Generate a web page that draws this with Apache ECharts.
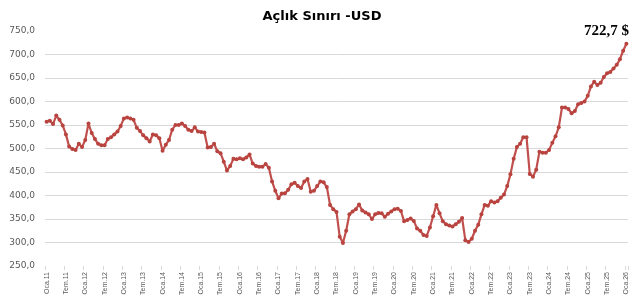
<!DOCTYPE html>
<html>
<head>
<meta charset="utf-8">
<script src="https://cdn.jsdelivr.net/npm/echarts@6/dist/echarts.min.js"></script>
<style>html,body{margin:0;padding:0;background:#fff;}#c{width:644px;height:300px;}</style>
</head>
<body>
<div id="c"></div>
<script>
var monthNames = ['Oca','Şub','Mar','Nis','May','Haz','Tem','Ağu','Eyl','Eki','Kas','Ara'];
var startYear = 2011, endYear = 2026;
var v2011 = [557,559,552,570,561,549,530,504,499,497,510,503];
var v2012 = [518,553,533,520,510,507,507,520,524,530,536,548];
var v2013 = [564,566,564,561,544,537,528,522,515,530,528,522];
var v2014 = [495,508,518,540,550,550,553,548,540,537,545,536];
var v2015 = [535,534,502,503,510,494,490,472,453,463,478,477];
var v2016 = [479,477,481,487,468,463,461,461,467,459,430,410];
var v2017 = [394,404,405,412,424,427,420,416,430,435,408,410];
var v2018 = [420,430,428,418,380,371,365,312,299,325,360,366];
var v2019 = [371,381,368,364,360,350,360,363,362,355,361,366];
var v2020 = [371,372,367,345,348,351,346,330,325,316,314,332];
var v2021 = [356,380,362,345,339,336,334,339,344,352,305,301];
var v2022 = [308,325,338,360,380,378,388,385,388,395,402,420];
var v2023 = [445,478,503,510,524,524,446,440,455,493,491,491];
var v2024 = [497,512,526,545,587,587,584,575,580,594,597,600];
var v2025 = [612,632,642,635,640,652,660,663,670,678,690,708];
var v2026 = [722.7];
var yTicks = {min: 250, max: 750, interval: 50};
var titleText = 'Açlık Sınırı -USD';

var values = [].concat(v2011,v2012,v2013,v2014,v2015,v2016,v2017,v2018,v2019,v2020,v2021,v2022,v2023,v2024,v2025,v2026);
var categories = [];
for (var y = startYear; y <= endYear; y++) {
  for (var m = 0; m < 12; m++) {
    if (categories.length >= values.length) break;
    categories.push(monthNames[m] + '.' + String(y).slice(2));
  }
}
var fmt = function (v) { return v.toFixed(1).replace('.', ','); };
var seriesData = values.map(function (v, i) {
  if (i === values.length - 1) {
    return {value: v, label: {show: true, position: 'top', offset: [-20, 2], formatter: function (p) { return fmt(p.value) + ' $'; },
      fontFamily: 'Liberation Serif', fontWeight: 'bold', fontSize: 15, color: '#000'}};
  }
  return v;
});

var chart = echarts.init(document.getElementById('c'), null, {renderer: 'canvas'});
chart.setOption({
  animation: false,
  title: {text: titleText, left: 'center', top: 5, textStyle: {fontFamily: 'DejaVu Sans', fontWeight: 'bold', fontSize: 13, color: '#000'}},
  grid: {left: 45, right: 16, top: 31, bottom: 34, containLabel: false},
  xAxis: {
    type: 'category', data: categories, boundaryGap: true,
    axisLine: {show: false},
    axisTick: {show: true, interval: 5, length: 4, lineStyle: {color: '#d9d9d9'}},
    axisLabel: {interval: 5, rotate: 90, fontFamily: 'Liberation Sans', fontSize: 7, color: '#595959', margin: 6},
    splitLine: {show: false}
  },
  yAxis: {
    type: 'value', min: yTicks.min, max: yTicks.max, interval: yTicks.interval,
    axisLine: {show: false}, axisTick: {show: false},
    axisLabel: {formatter: fmt, fontFamily: 'DejaVu Sans', fontSize: 9, color: '#595959', margin: 10},
    splitLine: {show: true, showMinLine: false, showMaxLine: false, lineStyle: {color: '#d9d9d9', width: 1}}
  },
  series: [{
    type: 'line', data: seriesData,
    symbol: 'circle', symbolSize: 4, showSymbol: true, showAllSymbol: true,
    lineStyle: {color: '#c0504d', width: 2.2},
    itemStyle: {color: '#b8433f'}
  }]
});
</script>
</body>
</html>
